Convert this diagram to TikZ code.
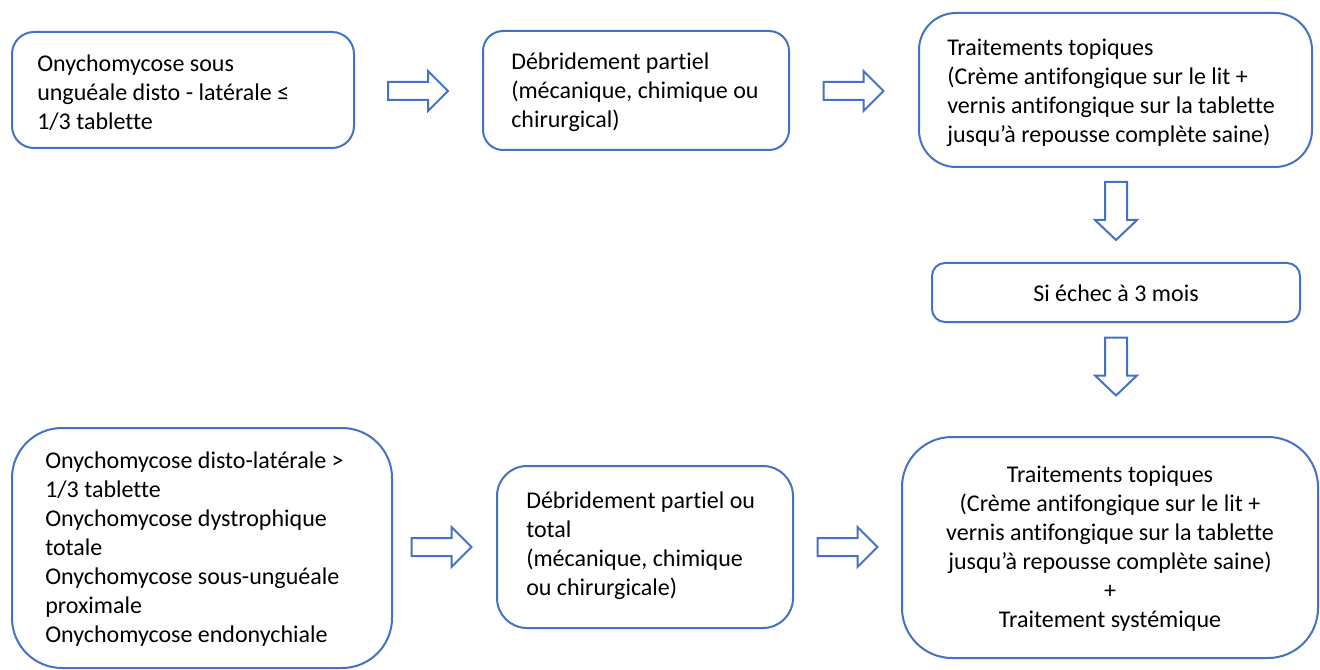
\documentclass[tikz,border=0pt]{standalone}
\usepackage{fontspec}
\setmainfont[Ligatures=NoCommon]{Carlito}
\definecolor{boxblue}{RGB}{68,114,196}
\begin{document}
\begin{tikzpicture}[x=0.75pt,y=-0.75pt,
  box/.style={draw=boxblue, line width=1.5pt, inner sep=0pt, fill=white},
  label/.style={inner sep=0pt, text=black, font=\fontsize{18}{21.75}\selectfont},
  rarr/.pic={\draw[boxblue, line width=1.5pt, line join=miter]
    (-30,-9) -- (10,-9) -- (10,-20) -- (30,0) -- (10,20) -- (10,9) -- (-30,9) -- cycle;},
  darr/.pic={\draw[boxblue, line width=1.5pt, line join=miter]
    (-11,-29) -- (-11,9) -- (-21,9) -- (0,29) -- (21,9) -- (11,9) -- (11,-29) -- cycle;}]
\useasboundingbox (0,0) rectangle (1320,670);

% Upper row: limited distal-lateral form
\node[box, rounded corners=16.5pt, minimum width=256.5pt, minimum height=87pt] (b1) at (183,90) {};
\node[label, anchor=west, align=left] (t1) at (37,93)
  {Onychomycose sous\\unguéale disto - latérale ≤\\1/3 tablette};

\node[box, rounded corners=15pt, minimum width=229.5pt, minimum height=89.25pt] (b2) at (636,90.5) {};
\node[label, anchor=west, align=left] (t2) at (511,92.5)
  {Débridement partiel\\(mécanique, chimique ou\\chirurgical)};

\node[box, rounded corners=27.75pt, minimum width=294.75pt, minimum height=115.5pt] (b3) at (1115.5,90) {};
\node[label, anchor=west, align=left] (t3) at (947,92.5)
  {Traitements topiques\\(Crème antifongique sur le lit +\\vernis antifongique sur la tablette\\jusqu’à repousse complète saine)};

% Failure check
\node[box, rounded corners=9.75pt, minimum width=276pt, minimum height=44.25pt] (b4) at (1116,292.5) {};
\node[label, align=center] (t4) at (1116,293) {Si échec à 3 mois};

% Lower row: extensive forms
\node[box, rounded corners=37.5pt, minimum width=285pt, minimum height=180pt] (b7) at (202,548) {};
\node[label, anchor=west, align=left] (t7) at (45,549.5)
  {Onychomycose disto-latérale >\\1/3 tablette\\Onychomycose dystrophique\\totale\\Onychomycose sous-unguéale\\proximale\\Onychomycose endonychiale};

\node[box, rounded corners=22.5pt, minimum width=222pt, minimum height=121.5pt] (b6) at (645,547) {};
\node[label, anchor=west, align=left] (t6) at (526,546)
  {Débridement partiel ou\\total\\(mécanique, chimique\\ou chirurgicale)};

\node[box, rounded corners=37.5pt, minimum width=312pt, minimum height=165.75pt] (b5) at (1110,547.5) {};
\node[label, align=center] (t5) at (1110,549)
  {Traitements topiques\\(Crème antifongique sur le lit +\\vernis antifongique sur la tablette\\jusqu’à repousse complète saine)\\+\\Traitement systémique};

% Block arrows between the boxes
\pic at (418,91) {rarr};
\pic at (853.5,91) {rarr};
\pic at (1116,211) {darr};
\pic at (1116,366.5) {darr};
\pic at (441.5,547) {rarr};
\pic at (847.5,547) {rarr};
\end{tikzpicture}
\end{document}
